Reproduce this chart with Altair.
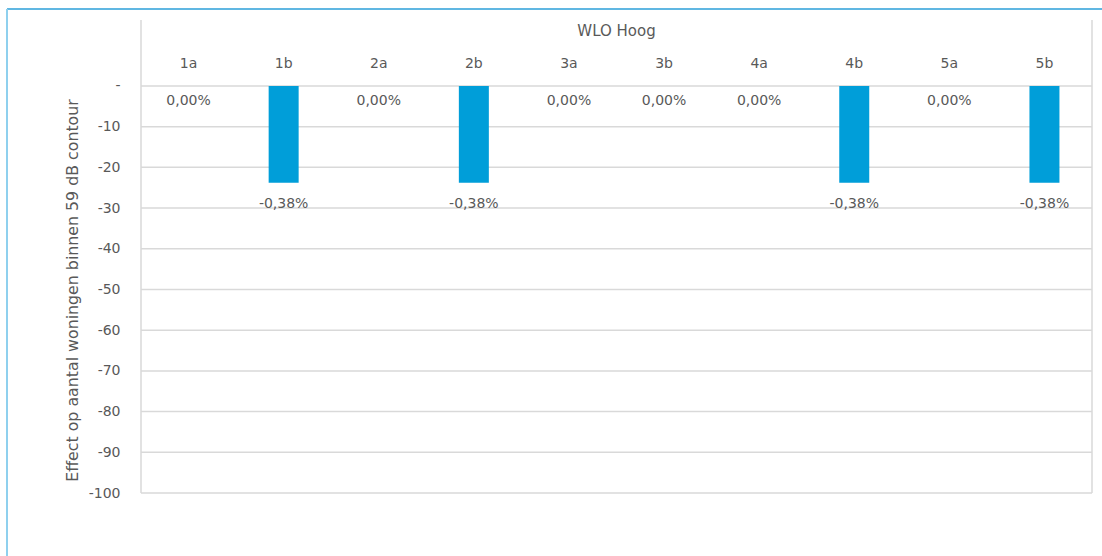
import altair as alt
import pandas as pd

categories = ["1a", "1b", "2a", "2b", "3a", "3b", "4a", "4b", "5a", "5b"]
values = [0.0, -23.8, 0.0, -23.8, 0.0, 0.0, 0.0, -23.8, 0.0, -23.8]
labels = ["0,00%", "-0,38%", "0,00%", "-0,38%", "0,00%", "0,00%", "0,00%", "-0,38%", "0,00%", "-0,38%"]
y_ticks = [0, -10, -20, -30, -40, -50, -60, -70, -80, -90, -100]
title_text = "WLO Hoog"
y_title = "Effect op aantal woningen binnen 59 dB contour"

df = pd.DataFrame({"cat": categories, "value": values, "label": labels})
grid_df = pd.DataFrame({"tick": y_ticks})

W, H = 951, 473
FONT = "DejaVu Sans"
TXT = "#595959"
GRID = "#D9D9D9"

x = alt.X("cat:N", sort=categories, axis=None,
          scale=alt.Scale(paddingInner=0, paddingOuter=0))
yscale = alt.Scale(domain=[-100, 16.2], nice=False, zero=False)

grid = alt.Chart(grid_df).mark_rule(color=GRID, strokeWidth=1.5).encode(
    y=alt.Y("tick:Q", scale=yscale,
            axis=alt.Axis(values=y_ticks, title=y_title,
                          labelExpr="datum.value == 0 ? '-' : '-' + abs(datum.value)",
                          domain=False, ticks=False, grid=False,
                          labelFont=FONT, labelFontSize=14, labelColor=TXT,
                          labelPadding=21, titleFont=FONT, titleFontSize=15.8,
                          titleFontWeight="normal", titleColor=TXT,
                          titlePadding=8, titleY=270)),
    x=alt.value(0), x2=alt.value(W),
)

base = alt.Chart(df)

bars = base.mark_bar(size=30, color="#009ED9").encode(
    x=x,
    y=alt.Y("value:Q", scale=yscale),
    y2=alt.datum(0),
)

zero_labels = base.transform_filter("datum.value == 0").mark_text(
    font=FONT, fontSize=14, color=TXT, baseline="middle", dy=15
).encode(x=x, y=alt.Y("value:Q", scale=yscale), text="label:N")

neg_labels = base.transform_filter("datum.value < 0").mark_text(
    font=FONT, fontSize=14, color=TXT, baseline="middle", dy=21
).encode(x=x, y=alt.Y("value:Q", scale=yscale), text="label:N")

cat_labels = base.mark_text(
    font=FONT, fontSize=14, color=TXT, baseline="middle"
).encode(x=x, y=alt.value(44), text="cat:N")

title_mark = alt.Chart(pd.DataFrame({"t": [title_text]})).mark_text(
    font=FONT, fontSize=15, color=TXT, baseline="middle"
).encode(x=alt.value(W / 2), y=alt.value(11), text="t:N")

left_line = alt.Chart(pd.DataFrame({"a": [0]})).mark_rule(color=GRID, strokeWidth=1.5).encode(
    x=alt.value(0), y=alt.value(0), y2=alt.value(H))
right_line = alt.Chart(pd.DataFrame({"a": [0]})).mark_rule(color=GRID, strokeWidth=1.5).encode(
    x=alt.value(W), y=alt.value(0), y2=alt.value(H))

top_border = alt.Chart(pd.DataFrame({"a": [0]})).mark_rule(color="#2B9FD8", strokeWidth=1.5).encode(
    x=alt.value(-134), x2=alt.value(W + 20), y=alt.value(-11))
left_border = alt.Chart(pd.DataFrame({"a": [0]})).mark_rule(color="#8FD0EE", strokeWidth=2).encode(
    x=alt.value(-134), y=alt.value(-11), y2=alt.value(H + 70))

chart = alt.layer(
    grid, bars, zero_labels, neg_labels, cat_labels, title_mark,
    left_line, right_line, top_border, left_border
).properties(
    width=W, height=H,
    autosize=alt.AutoSizeParams(type="none"),
    padding={"left": 141, "top": 20, "right": 10, "bottom": 63},
).configure(background="white").configure_view(
    strokeWidth=0, strokeOpacity=0
).configure_axis(grid=False, domain=False)

chart.save("out.html", embed_options={"renderer": "svg", "actions": False})
